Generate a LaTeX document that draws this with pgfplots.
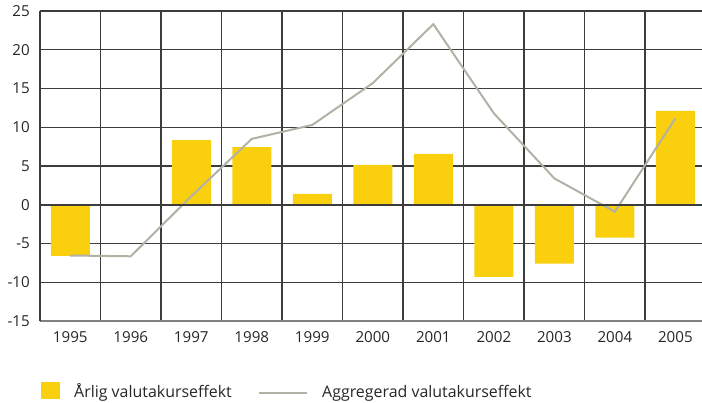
\documentclass[border=0pt]{standalone}
\usepackage{pgfplots}
\pgfplotsset{compat=1.18}
\usepackage{fontspec}
\setmainfont{Open Sans}
\definecolor{barY}{HTML}{FAD00E}
\definecolor{lineG}{HTML}{B2B1A5}
\definecolor{gridC}{HTML}{3C3C3C}
\begin{document}
\begin{tikzpicture}
\path[use as bounding box] (0,0) rectangle (702bp,403bp);
\begin{axis}[
  at={(40bp,82bp)}, anchor=south west,
  scale only axis, width=662bp, height=310bp,
  xmin=-0.5, xmax=10.44, ymin=-15, ymax=25,
  xtick={0,...,10},
  xticklabels={1995,1996,1997,1998,1999,2000,2001,2002,2003,2004,2005},
  minor xtick={-0.5,0.5,1.5,2.5,3.5,4.5,5.5,6.5,7.5,8.5,9.5},
  ytick={-15,-10,...,25},
  xmajorgrids=false, xminorgrids=true, ymajorgrids=true,
  major grid style={gridC, line width=1.3bp},
  minor grid style={gridC, line width=1.3bp},
  major tick length=0pt, minor tick length=0pt,
  axis x line*=bottom, axis y line*=left,
  axis line style={-, gridC, line width=1.3bp},
  x axis line style={draw=black!50, line width=1.8bp},
  /pgf/number format/assume math mode=true,
  yticklabel style={inner sep=0pt, xshift=-10bp, font=\fontsize{15.2}{17}\selectfont, text=black!85},
  xticklabel style={inner sep=0pt, yshift=-10.5bp, font=\fontsize{15.2}{17}\selectfont, text=black!85},
  clip=false,
]
\addplot[ybar, bar width=39bp, fill=barY, draw=none]
  coordinates {(0,-6.6) (1,0.05) (2,8.35) (3,7.45) (4,1.4) (5,5.13) (6,6.55) (7,-9.3) (8,-7.6) (9,-4.25) (10,12.1)};
\addplot[lineG, line width=2bp]
  coordinates {(0,-6.55) (1,-6.65) (2,1.1) (3,8.5) (4,10.3) (5,15.7) (6,23.3) (7,11.8) (8,3.4) (9,-0.9) (10,11.15)};
\draw[gridC, line width=1.6bp] (axis cs:-0.5,0) -- (axis cs:10.44,0);
\end{axis}
% legend
\fill[barY] (40.7bp,4bp) rectangle (60bp,21.3bp);
\node[anchor=base west, inner sep=0pt, text=black!85, font=\fontsize{16}{18}\selectfont] at (74bp,6bp) {Årlig valutakurseffekt};
\draw[lineG, line width=2.2bp] (259bp,10.3bp) -- (307bp,10.3bp);
\node[anchor=base west, inner sep=0pt, text=black!85, font=\fontsize{16}{18}\selectfont] at (322bp,6bp) {Aggregerad valutakurseffekt};
\end{tikzpicture}
\end{document}
